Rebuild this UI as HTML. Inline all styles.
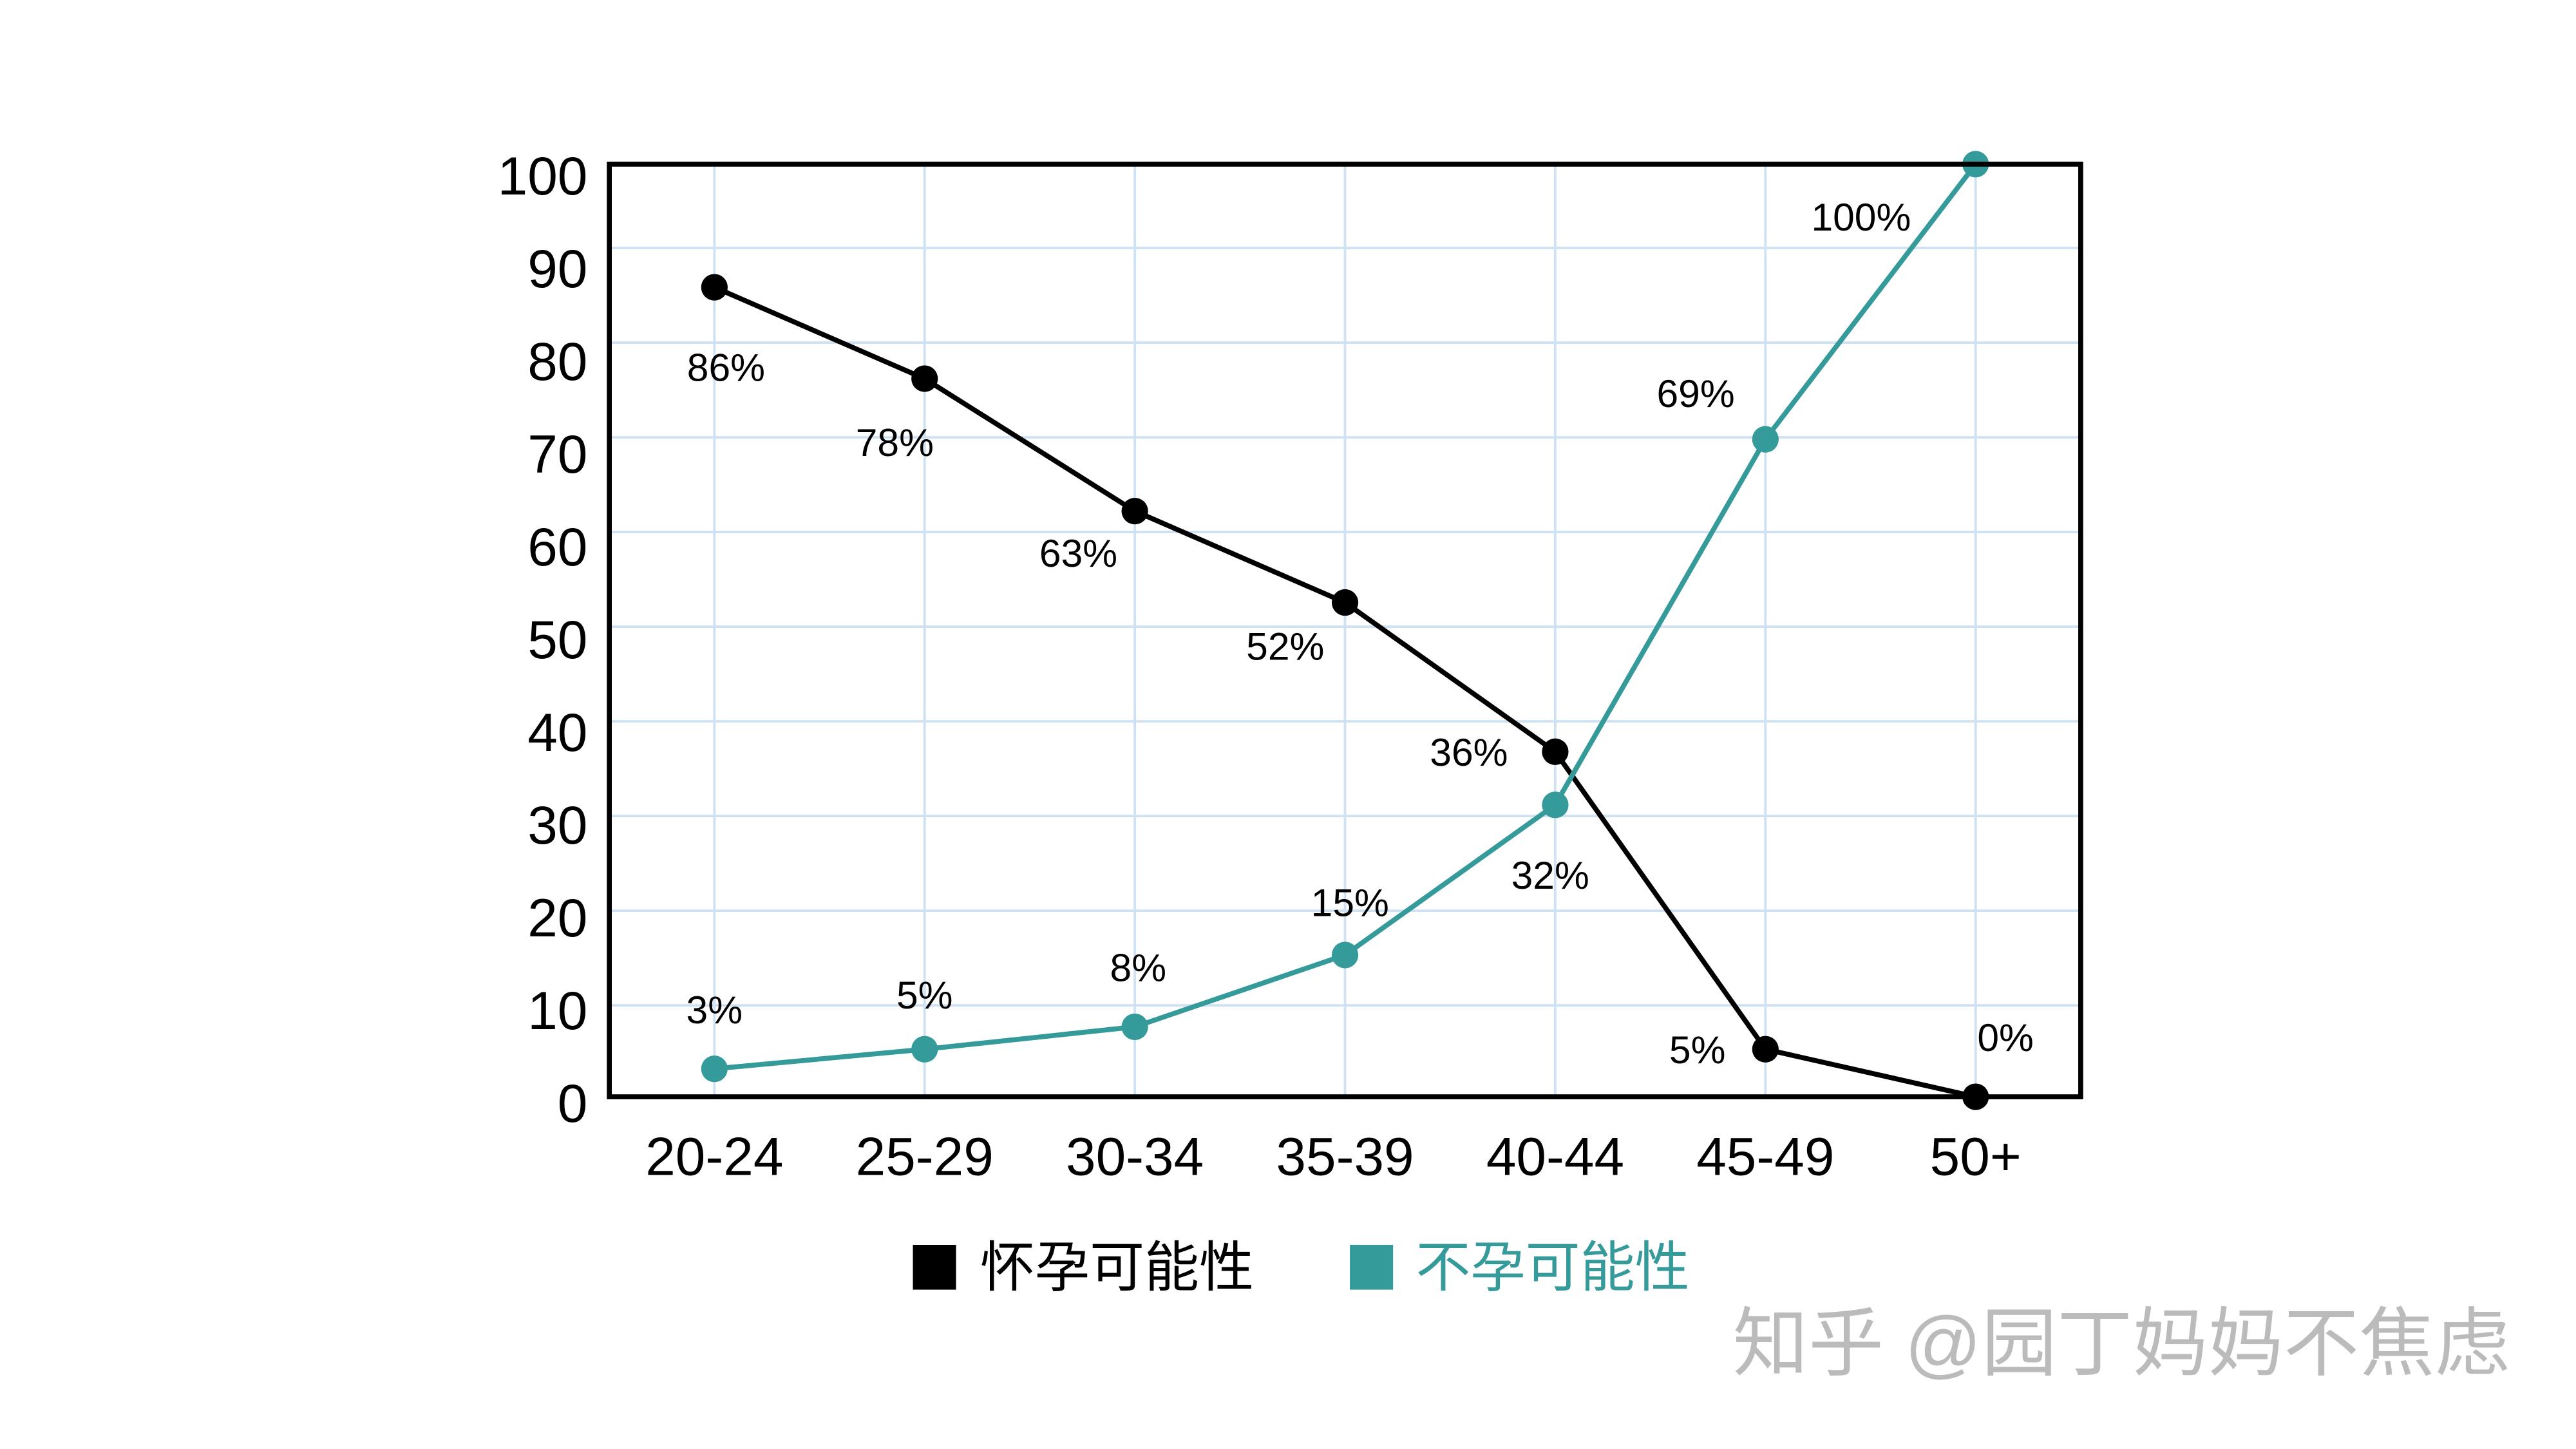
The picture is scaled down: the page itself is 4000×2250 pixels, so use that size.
<!DOCTYPE html>
<html><head><meta charset="utf-8">
<style>
html,body{margin:0;padding:0;background:#fff;}
svg{display:block;}
text{font-family:"Liberation Sans","Noto Sans CJK SC",sans-serif;}
</style></head>
<body>
<svg id="chart" width="4000" height="2250" viewBox="0 0 1552 873" xmlns="http://www.w3.org/2000/svg">
<g id="grid"></g>
<g id="series"></g>
<rect x="367.1" y="98.9" width="886.5" height="561.9" fill="none" stroke="#000" stroke-width="3"/>
<g id="axes"></g>
<g>
  <g>
    <rect x="550" y="750" width="26" height="27" fill="#000"/>
    <text x="590.5" y="775" font-size="33" fill="#000">怀孕可能性</text>
  </g>
  <g>
    <rect x="813.3" y="750" width="26" height="27" fill="#359a9a"/>
    <text x="853" y="775" font-size="33" fill="#359a9a">不孕可能性</text>
  </g>
</g>
<text x="1044" y="825" font-size="45.5" fill="#bbb">知乎 @园丁妈妈不焦虑</text>
</svg>
<script>
const categories = ["20-24","25-29","30-34","35-39","40-44","45-49","50+"];
const pregnantValues = [86,78,63,52,36,5,0];
const infertileValues = [3,5,8,15,32,69,100];
const pregnantPlotted = [86.8,77,62.8,53,37,5.1,0];
const infertilePlotted = [3,5.1,7.5,15.2,31.3,70.5,100];
const yTicks = [0,10,20,30,40,50,60,70,80,90,100];

const pregLabelOffsets = [[7,48],[-18,38],[-34,25],[-36,26],[-52,0],[-41,0],[18,-36]];
const infLabelOffsets = [[0,-36],[0,-33],[2,-36],[3,-32],[-3,42],[-42,-28],[-69,31.6]];

const NS = "http://www.w3.org/2000/svg";
const L=367.1,R=1253.6,T=98.9,B=660.8;
const bw=(R-L)/categories.length;
const xs=i=>L+(i+0.5)*bw;
const ys=v=>B-(v/100)*(B-T);
// decorative grid/labels spacing measured from reference
const gridY=k=>149.4+57.04*k;
const labelY=v=>664.3-(v/10)*55.87+11.6;
function mk(tag,attrs,parent,txt){const e=document.createElementNS(NS,tag);for(const k in attrs)e.setAttribute(k,attrs[k]);if(txt!==undefined)e.textContent=txt;parent.appendChild(e);return e;}
const grid=document.getElementById('grid'),axes=document.getElementById('axes'),series=document.getElementById('series');
for(let k=0;k<9;k++){
  const ln=mk('line',{x1:L,x2:R,y1:gridY(k),y2:gridY(k),stroke:'#cfe2f3','stroke-width':1.5},grid);
  
  
}
yTicks.forEach(t=>{
  const tx=mk('text',{x:354,y:labelY(t),'font-size':32.5,'text-anchor':'end',fill:'#000'},axes,String(t));
  
  
});
categories.forEach((c,i)=>{
  const ln=mk('line',{x1:xs(i),x2:xs(i),y1:T,y2:B,stroke:'#cfe2f3','stroke-width':1.5},grid);
  
  
  const tx=mk('text',{x:xs(i),y:708,'font-size':32.5,'text-anchor':'middle',fill:'#000'},axes,c);
  
  
});
function drawSeries(vals,plotted,labels,offs,color,name){
  const pts=plotted.map((v,i)=>xs(i)+','+ys(v)).join(' ');
  const pl=mk('polyline',{points:pts,fill:'none',stroke:color,'stroke-width':3},series);
  
  
  plotted.forEach((v,i)=>{
    const c=mk('circle',{cx:xs(i),cy:ys(v),r:8,fill:color},series);
    
    
    const t=mk('text',{x:xs(i)+offs[i][0],y:ys(v)+offs[i][1]+8.5,'font-size':23.5,'text-anchor':'middle',fill:'#000'},series,labels[i]+'%');
    
    
  });
}
drawSeries(pregnantValues,pregnantPlotted,pregnantValues,pregLabelOffsets,'#000','pregnancy');
drawSeries(infertileValues,infertilePlotted,infertileValues,infLabelOffsets,'#359a9a','infertility');
</script>
</body></html>
